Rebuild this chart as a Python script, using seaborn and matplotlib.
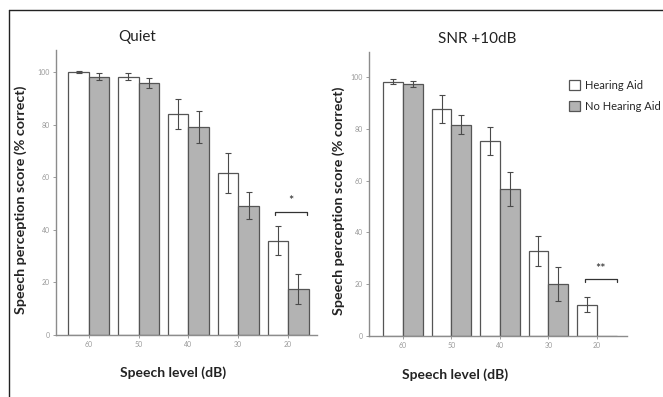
import numpy as np
import pandas as pd
import matplotlib
matplotlib.use("Agg")
import matplotlib.pyplot as plt
from matplotlib.lines import Line2D
from matplotlib.patches import Patch
import seaborn as sns

levels = ["60", "50", "40", "30", "20"]
groups = ["Hearing Aid", "No Hearing Aid"]

quiet_ha = [100.0, 98.3, 84.0, 61.7, 35.9]
quiet_ha_err = [0.3, 1.4, 5.6, 7.6, 5.4]
quiet_nha = [98.3, 95.7, 79.2, 49.2, 17.4]
quiet_nha_err = [1.2, 1.9, 6.0, 5.1, 5.7]

snr_ha = [98.2, 87.6, 75.2, 32.8, 12.0]
snr_ha_err = [1.0, 5.3, 5.3, 5.6, 2.9]
snr_nha = [97.2, 81.5, 56.8, 20.1, 0.0]
snr_nha_err = [1.3, 3.7, 6.5, 6.6, 0.0]

titles = ["Quiet", "SNR +10dB"]
ylabel = "Speech perception score (% correct)"
xlabel = "Speech level (dB)"

sns.set_style("ticks")
plt.rcParams["font.family"] = ["Lato", "DejaVu Sans"]

W, H = 663, 397
fig = plt.figure(figsize=(W / 100, H / 100), dpi=100)

def px_rect(x0, x1, ytop, ybot):
    return [x0 / W, 1 - ybot / H, (x1 - x0) / W, (ybot - ytop) / H]

ax1 = fig.add_axes(px_rect(56, 317, 50, 335))
ax2 = fig.add_axes(px_rect(369, 627, 52, 336))

palette = {"Hearing Aid": "white", "No Hearing Aid": "#b3b3b3"}
edge = "#555555"
axis_col = "#8c8c8c"

panels = [
    (ax1, quiet_ha, quiet_ha_err, quiet_nha, quiet_nha_err, (-0.66, 4.58), 108.4,
     (3.74, 4.38, 46.8, 45.6, 4.06, 51.0, "*"), 0.31, 0.448, -0.109, -0.111),
    (ax2, snr_ha, snr_ha_err, snr_nha, snr_nha_err, (-0.70, 4.62), 109.6,
     (3.75, 4.41, 22.0, 20.8, 4.08, 25.8, "**"), 0.42, 0.333, -0.113, -0.093),
]

for i, (ax, ha, ha_e, nha, nha_e, xlim, ytop, sig, tx, xlx, xly, ylx) in enumerate(panels):
    df = pd.DataFrame({
        "level": levels * 2,
        "group": [groups[0]] * 5 + [groups[1]] * 5,
        "score": ha + nha,
        "err": ha_e + nha_e,
    })
    sns.barplot(data=df, x="level", y="score", hue="group", order=levels,
                hue_order=groups, palette=palette, edgecolor=edge, linewidth=0.9,
                width=0.82, errorbar=None, ax=ax, legend=False)
    for cont, g in zip(ax.containers, groups):
        sub = df[df["group"] == g].set_index("level").loc[levels]
        for bar, val, e in zip(cont, sub["score"], sub["err"]):
            if val <= 0:
                continue
            cx = bar.get_x() + bar.get_width() / 2
            ax.errorbar(cx, val, yerr=e, fmt="none", ecolor="#4a4a4a",
                        elinewidth=0.8, capsize=2, capthick=0.8)
    ax.set_xlim(*xlim)
    ax.set_ylim(0, ytop)
    ax.set_yticks([0, 20, 40, 60, 80, 100])
    sns.despine(ax=ax)
    for s in ["left", "bottom"]:
        ax.spines[s].set_color(axis_col)
        ax.spines[s].set_linewidth(1.0)
    ax.tick_params(axis="both", labelsize=5, colors=axis_col, length=2.5, width=0.6,
                   labelcolor="#9a9a9a", pad=2)
    ax.set_ylabel(ylabel, fontsize=10.3, fontweight="bold", color="#222222")
    ax.set_xlabel(xlabel, fontsize=10, fontweight="bold", color="#222222")
    ax.yaxis.set_label_coords(ylx, 0.476)
    ax.xaxis.set_label_coords(xlx, xly)
    ax.text(tx, 1.046, titles[i], transform=ax.transAxes, ha="center", va="center",
            fontsize=11, color="#222222")
    x0, x1, yb, ye, sx, sy, st = sig
    ax.plot([x0, x0, x1, x1], [ye, yb, yb, ye], color="#333333", lw=0.9)
    ax.text(sx, sy, st, ha="center", va="center", fontsize=9, color="#222222")

handles = [Patch(facecolor=palette[g], edgecolor=edge, linewidth=0.9) for g in groups]
fig.legend(handles, groups, loc="upper left", bbox_to_anchor=(563 / W, 1 - 74 / H),
           frameon=False, fontsize=8, handlelength=1.0, handleheight=1.0,
           handletextpad=0.5, labelspacing=0.9, borderpad=0)

fig.add_artist(Line2D([9 / W, 1.0], [1 - 10 / H, 1 - 10 / H], color="#222222", lw=1.0))
fig.add_artist(Line2D([9 / W, 9 / W], [1 - 10 / H, 0.0], color="#222222", lw=1.0))

fig.savefig("out.png", dpi=100)
